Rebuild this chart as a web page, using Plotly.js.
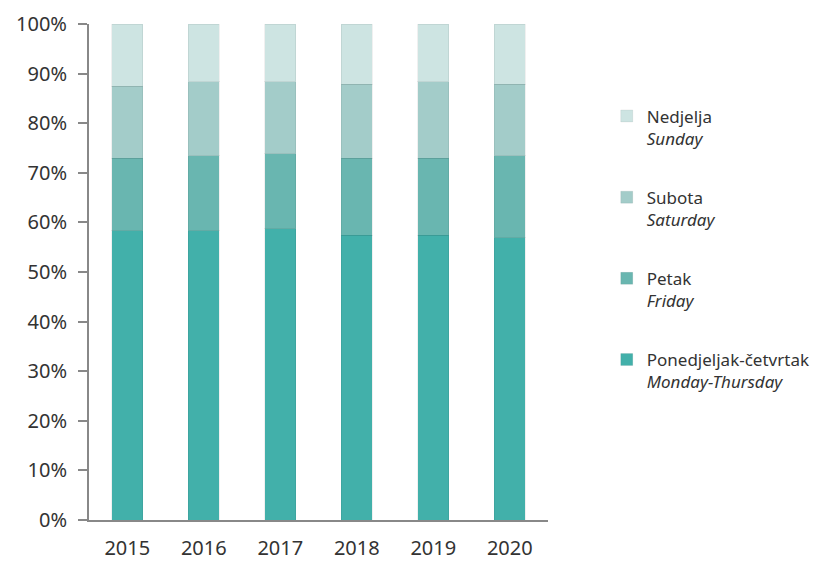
<!DOCTYPE html>
<html><head><meta charset="utf-8">
<script src="https://cdn.plot.ly/plotly-3.0.1.min.js"></script>
<style>html,body{margin:0;padding:0;background:#fff}#c{width:834px;height:561px}</style>
</head><body><div id="c"></div>
<script>
var years = ['2015','2016','2017','2018','2019','2020'];
var monThu = [58.3, 58.3, 58.7, 57.4, 57.4, 56.9];
var friday = [14.6, 15.1, 15.1, 15.5, 15.5, 16.5];
var saturday = [14.6, 15.0, 14.6, 15.0, 15.5, 14.5];
var sunday = [12.5, 11.6, 11.6, 12.1, 11.6, 12.1];
var names = ['Ponedjeljak-četvrtak<br><i>Monday-Thursday</i>', 'Petak<br><i>Friday</i>', 'Subota<br><i>Saturday</i>', 'Nedjelja<br><i>Sunday</i>'];
var colors = ['#42b0aa', '#69b6b0', '#a3ccc9', '#cde4e2'];
var series = [monThu, friday, saturday, sunday];
var traces = series.map(function(v, i){
  return {type:'bar', x:years, y:v, name:names[i], legendgroup:'g'+i, legendrank:4-i,
    marker:{color:colors[i], line:{color:'rgba(0,0,0,0.06)', width:1}},
    hoverinfo:'y'};
});
var layout = {
  width:834, height:561,
  margin:{l:89, r:286, t:24, b:41},
  barmode:'stack', bargap:0.6,
  paper_bgcolor:'#fff', plot_bgcolor:'#fff',
  font:{family:'Noto Sans, sans-serif', size:18, color:'#333'},
  xaxis:{type:'category', showline:true, linecolor:'#888', linewidth:2, ticks:'', showgrid:false,
    tickfont:{size:20, color:'#333'}, ticklabelstandoff:9, fixedrange:true},
  yaxis:{range:[0,100], dtick:10, ticksuffix:'%', showline:true, linecolor:'#888', linewidth:2,
    ticks:'outside', ticklen:9, tickwidth:2, tickcolor:'#888', showgrid:false, zeroline:false,
    tickfont:{size:20, color:'#333'}, ticklabelstandoff:7},
  showlegend:true,
  legend:{x:1.128, xanchor:'left', y:0.85, yanchor:'top', traceorder:'grouped',
    tracegroupgap:34, valign:'top', font:{size:17, color:'#333'}, itemwidth:30, bgcolor:'rgba(0,0,0,0)'}
};
Plotly.newPlot('c', traces, layout, {displayModeBar:false, staticPlot:true});
</script></body></html>
